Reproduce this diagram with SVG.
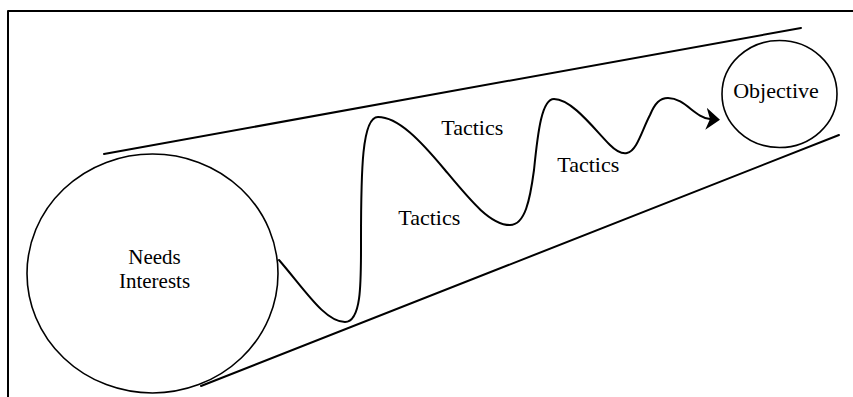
<svg xmlns="http://www.w3.org/2000/svg" width="853" height="397" viewBox="0 0 853 397">
<defs>
<style>
.ln{stroke:#000;stroke-width:2;fill:none;stroke-linecap:round}
.nd{stroke:#000;stroke-width:1.6;fill:#fff}
.tx{font-family:"Liberation Serif","Times New Roman",serif;font-size:22px;fill:#000;text-anchor:middle}
.tn{font-size:21px}
</style>
<marker id="ah" markerUnits="userSpaceOnUse" markerWidth="16" markerHeight="24" refX="4" refY="12" orient="auto" viewBox="0 0 16 24">
<path d="M0,1 L14,12 L0,23 L4,12 Z" fill="#000"/>
</marker>
</defs>
<rect width="853" height="397" fill="#fff"/>
<g id="frame">
<path class="ln" d="M8,11 H853 M8,11 V397" stroke-linecap="butt"/>
</g>
<g id="funnel">
<line class="ln" x1="104" y1="154" x2="801" y2="28"/>
<line class="ln" x1="201" y1="386" x2="839" y2="135"/>
</g>
<g id="needs">
<ellipse class="nd" cx="152.5" cy="273.5" rx="125.5" ry="119.5"/>
<text class="tx tn" x="154.5" y="264">Needs</text>
<text class="tx tn" x="154.5" y="288">Interests</text>
</g>
<g id="objective">
<ellipse class="nd" cx="779.5" cy="94" rx="57.5" ry="53.5"/>
<text class="tx" x="776" y="98">Objective</text>
</g>
<g id="connectors">
<path class="ln" marker-end="url(#ah)" d="M279,260 C305,290 325,322 345,322 C362,322 361,280 361,240 C361,170 362,117 378,117 C398,117 420,140 445,170 C470,200 490,225 510,225 C525,225 530,200 534,170 C538,130 542,99 554,99 C572,99 595,130 610,145 C617,152 622,154 627,153 C637,151 642,130 650,115 C655,103 660,98 668,98 C685,98 695,118 710,119"/>
</g>
<g id="labels">
<text class="tx" x="472.3" y="135">Tactics</text>
<text class="tx" x="429.3" y="225">Tactics</text>
<text class="tx" x="588.3" y="171.5">Tactics</text>
</g>
</svg>
